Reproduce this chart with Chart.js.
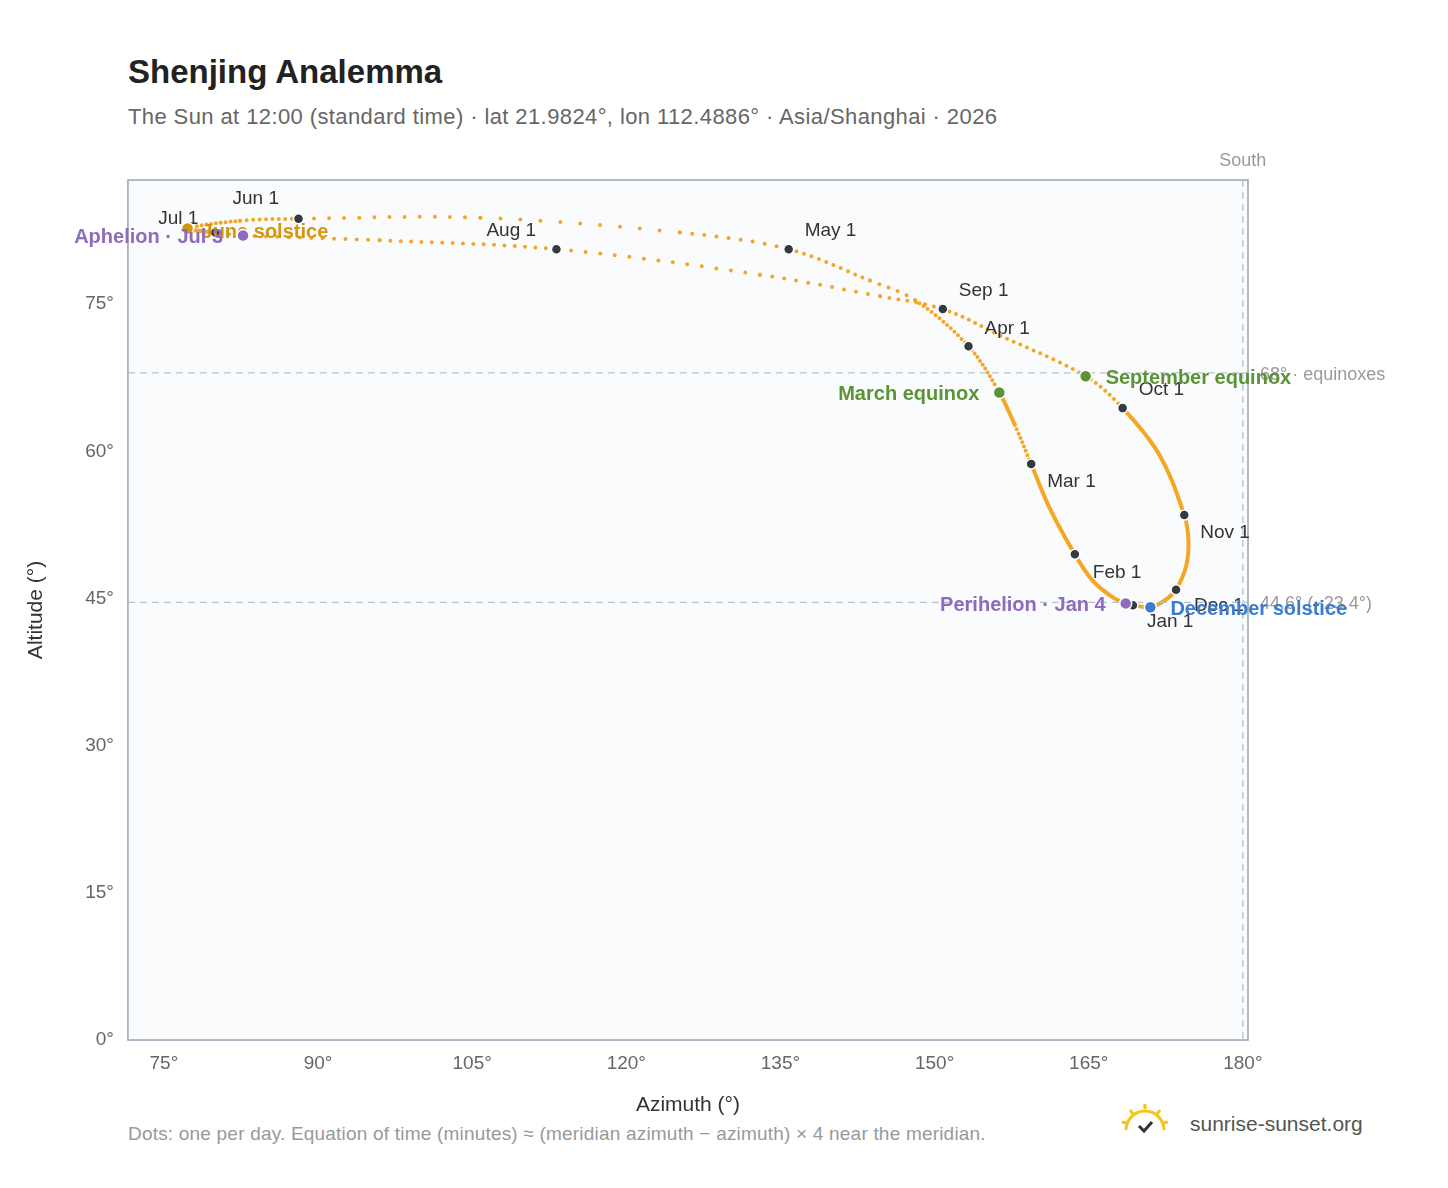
<!DOCTYPE html>
<html><head><meta charset="utf-8">
<script src="https://cdn.jsdelivr.net/npm/chart.js@4"></script>
<style>body{margin:0;background:#fff;font-family:"Liberation Sans",Arial,sans-serif}#w{position:absolute;left:0;top:0;width:1448px;height:1188px}</style>
</head><body>
<div style="position:absolute;left:128px;top:53px;font-size:33px;font-weight:bold;color:#222">Shenjing Analemma</div>
<div style="position:absolute;left:128px;top:104px;font-size:22px;color:#666;letter-spacing:0.4px">The Sun at 12:00 (standard time) · lat 21.9824°, lon 112.4886° · Asia/Shanghai · 2026</div>
<div style="position:absolute;left:128px;top:1123px;font-size:19px;color:#999;letter-spacing:0.2px">Dots: one per day. Equation of time (minutes) ≈ (meridian azimuth − azimuth) × 4 near the meridian.</div>
<div style="position:absolute;left:1190px;top:1112px;font-size:21px;color:#555">sunrise-sunset.org</div>
<svg style="position:absolute;left:1120px;top:1102px" width="50" height="34"><path d="M6 28 A19 19 0 0 1 44 28" fill="none" stroke="#f5c518" stroke-width="3"/><g stroke="#f5c518" stroke-width="3"><line x1="25" y1="2" x2="25" y2="7"/><line x1="10" y1="8" x2="13" y2="12"/><line x1="40" y1="8" x2="37" y2="12"/><line x1="2" y1="20" x2="7" y2="21"/><line x1="48" y1="20" x2="43" y2="21"/></g><path d="M19 24 l5 5 l8 -9" fill="none" stroke="#333" stroke-width="3"/></svg>
<div id="w"><canvas id="c" width="1448" height="1188"></canvas></div>
<script>
// day-of-year, azimuth, altitude
const days = [1,4,10,20,32,46,60,69,79,91,105,110,121,130,140,152,161,172,182,184,196,213,227,237,244,253,266,274,288,305,314,324,335,344,355,365];
const azimuth = [169.3,168.6,167.5,165.4,163.65,161.2,159.4,157.8,156.3,153.3,148.1,143.7,135.8,125.2,105.8,88.1,82.4,77.3,80.0,82.7,96.0,113.2,133.0,144.7,150.8,156.4,164.7,168.3,171.9,174.3,174.7,174.5,173.5,172.4,171.0,169.4];
const altitude = [44.3,44.5,45.0,46.8,49.5,54.2,58.7,62.7,66.0,70.7,75.4,77.4,80.6,82.3,83.8,83.7,83.5,82.7,82.3,82.0,81.5,80.6,78.0,75.8,74.5,71.8,67.65,64.4,59.6,53.5,51.0,48.4,45.9,44.8,44.1,44.3];
const monthLabels = ["Jan 1","Feb 1","Mar 1","Apr 1","May 1","Jun 1","Jul 1","Aug 1","Sep 1","Oct 1","Nov 1","Dec 1"];
const monthDays = [1,32,60,91,121,152,182,213,244,274,305,335];
const monthOffsets = [[14,16],[18,18],[16,18],[16,-18],[16,-18],[-66,-20],[-57,-14],[-70,-18],[16,-18],[16,-18],[16,18],[18,16]];
const events = [
 {name:"March equinox", d:79, color:"#5b9336", dx:-20, dy:2, align:"right"},
 {name:"September equinox", d:266, color:"#5b9336", dx:20, dy:2, align:"left"},
 {name:"June solstice", d:172, color:"#d4960f", dx:14, dy:4, align:"left"},
 {name:"December solstice", d:355, color:"#3b7bd0", dx:20, dy:2, align:"left"},
 {name:"Perihelion · Jan 4", d:4, color:"#8e6bbf", dx:-20, dy:2, align:"right"},
 {name:"Aphelion · Jul 3", d:184, color:"#8e6bbf", dx:-20, dy:2, align:"right"}
];
const refLines = [{y:68, label:"68° · equinoxes"},{y:44.6, label:"44.6° (−23.4°)"}];
const xTicks = [75,90,105,120,135,150,165,180];

const path = days.map((d,i)=>({x:azimuth[i],y:altitude[i],d}));
const byDay = d => path[days.indexOf(d)];
const monthPts = monthDays.map(byDay);
const F='"Liberation Sans",Arial';

const overlay = {
 id:'overlay',
 beforeDatasetsDraw(ch){
  const {ctx,chartArea:a} = ch;
  ctx.save();
  ctx.fillStyle='#f9fbfd'; ctx.fillRect(a.left,a.top,a.right-a.left,a.bottom-a.top);
  ctx.restore();
 },
 afterDraw(ch){
  const {ctx,chartArea:a,scales:{x,y}} = ch;
  ctx.save();
  ctx.strokeStyle='#b8c2cc'; ctx.lineWidth=1.3; ctx.setLineDash([7,5]);
  refLines.forEach(r=>{const py=y.getPixelForValue(r.y);ctx.beginPath();ctx.moveTo(a.left,py);ctx.lineTo(a.right,py);ctx.stroke();});
  const sx=x.getPixelForValue(180);ctx.beginPath();ctx.moveTo(sx,a.top);ctx.lineTo(sx,a.bottom);ctx.stroke();
  ctx.setLineDash([]);
  ctx.font='18px '+F; ctx.fillStyle='#999'; ctx.textBaseline='middle';
  refLines.forEach(r=>{ctx.fillText(r.label,a.right+12,y.getPixelForValue(r.y)+2);});
  ctx.textAlign='center'; ctx.fillText('South',sx,a.top-19);
  ctx.strokeStyle='#9aa5b1'; ctx.lineWidth=1.5; ctx.strokeRect(a.left,a.top,a.right-a.left,a.bottom-a.top);
  monthPts.forEach((p,i)=>{
   const px=x.getPixelForValue(p.x),py=y.getPixelForValue(p.y);
   ctx.fillStyle='#333a44';ctx.strokeStyle='#fff';ctx.lineWidth=1.5;
   ctx.beginPath();ctx.arc(px,py,5,0,7);ctx.fill();ctx.stroke();
   ctx.fillStyle='#333';ctx.font='19px '+F;ctx.textAlign='left';
   ctx.fillText(monthLabels[i],px+monthOffsets[i][0],py+monthOffsets[i][1]);
  });
  events.forEach(e=>{
   const p=byDay(e.d);const px=x.getPixelForValue(p.x),py=y.getPixelForValue(p.y);
   ctx.fillStyle=e.color;ctx.strokeStyle='#fff';ctx.lineWidth=1.5;
   ctx.beginPath();ctx.arc(px,py,6,0,7);ctx.fill();ctx.stroke();
   ctx.font='bold 20px '+F;ctx.textAlign=e.align;
   ctx.fillText(e.name,px+e.dx,py+e.dy);
  });
  ctx.restore();
 }
};

new Chart(document.getElementById('c'),{
 type:'scatter',
 data:{datasets:[{data:path,showLine:true,tension:0.35,borderColor:'#f5a623',borderWidth:4,borderCapStyle:'round',pointRadius:0,
  segment:{borderDash:c=>{const dx=c.p1.x-c.p0.x,dy=c.p1.y-c.p0.y;const n=c.p1.raw.d-c.p0.raw.d;const g=Math.hypot(dx,dy)/n;return g<4.5?undefined:[0,g];}}}]},
 plugins:[overlay],
 options:{responsive:false,animation:false,
  layout:{padding:{left:20,right:200,top:180,bottom:66}},
  plugins:{legend:{display:false},tooltip:{enabled:false}},
  scales:{
   x:{type:'linear',min:71.5,max:180.5,afterBuildTicks:s=>{s.ticks=xTicks.map(v=>({value:v}));},
    grid:{color:'#e6ebf0',drawTicks:false},border:{display:false},
    ticks:{padding:12,color:'#666',font:{size:19,family:F},callback:v=>v+'°'},
    title:{display:true,text:'Azimuth (°)',color:'#333',font:{size:21,family:F},padding:{top:6}}},
   y:{min:0,max:87.65,afterBuildTicks:s=>{s.ticks=[0,15,30,45,60,75].map(v=>({value:v}));},
    grid:{color:'#e6ebf0',drawTicks:false},border:{display:false},
    ticks:{padding:14,color:'#666',font:{size:19,family:F},callback:v=>v+'°'},
    title:{display:true,text:'Altitude (°)',color:'#333',font:{size:21,family:F},padding:{bottom:22}}}
  }}
});
</script></body></html>
